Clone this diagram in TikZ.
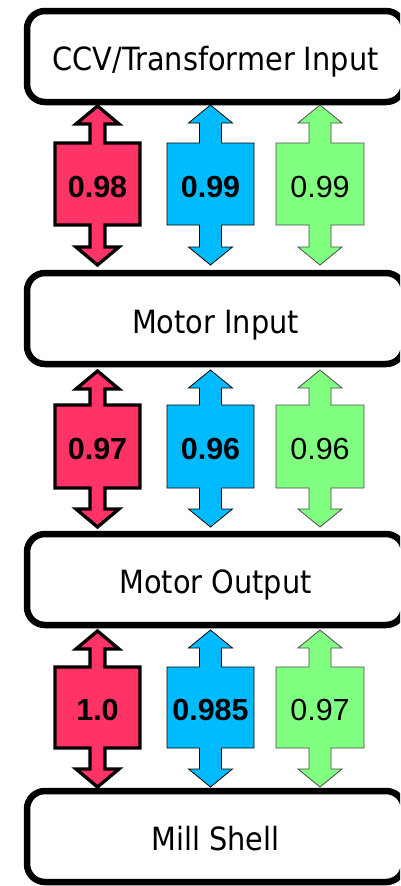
\documentclass[tikz,border=0pt]{standalone}
\usepackage{fontspec}
\setmainfont{Liberation Sans}
\newfontfamily\boxfont{DejaVu Sans}[FakeStretch=0.9]
\definecolor{effred}{HTML}{FF3366}
\definecolor{effblue}{HTML}{00BBFF}
\definecolor{effgreen}{HTML}{80FF80}
% #1 cx, #2 top tip, #3 body top, #4 body bottom, #5 bottom tip, #6 style, #7 shaft half width, #8 body half width, #9 head half width
\newcommand\effarrowpath[9]{%
  \draw[#6] (#1,#2) -- (#1+#9,#2+18) -- (#1+#7,#2+18) -- (#1+#7,#3) -- (#1+#8,#3)
    -- (#1+#8,#4) -- (#1+#7,#4) -- (#1+#7,#5-18) -- (#1+#9,#5-18) -- (#1,#5)
    -- (#1-#9,#5-18) -- (#1-#7,#5-18) -- (#1-#7,#4) -- (#1-#8,#4) -- (#1-#8,#3)
    -- (#1-#7,#3) -- (#1-#7,#2+18) -- (#1-#9,#2+18) -- cycle;}
\begin{document}
\begin{tikzpicture}[x=1pt,y=-1pt,
  stagebox/.style={draw=black, line width=6.5pt, fill=white, rounded corners=18pt,
    minimum width=377pt, minimum height=91pt, inner sep=0pt},
  stagelabel/.style={font=\boxfont\fontsize{32}{38}\selectfont, anchor=base, inner sep=0pt},
  redarrow/.style={fill=effred, draw=black, line width=3.3pt, line join=miter},
  bluearrow/.style={fill=effblue, draw=black, line width=0.8pt},
  greenarrow/.style={fill=effgreen, draw=black!70, line width=0.8pt},
  effbold/.style={font=\fontsize{30.5}{36}\selectfont\bfseries, anchor=base, inner sep=0pt},
  effreg/.style={font=\fontsize{30.5}{36}\selectfont, anchor=base, inner sep=0pt}]
\useasboundingbox (0,0) rectangle (400,886);
\clip (0,0) rectangle (400,886);
\fill[white] (0,0) rectangle (400,886);

% stage boxes
\node[stagebox] (b1) at (215.5,56.5) {};
\node[stagebox] (b2) at (215.5,318.5) {};
\node[stagebox] (b3) at (215.5,579.5) {};
\node[stagebox] (b4) at (215.5,836.5) {};
\node[stagelabel] (t1) at ([yshift=-13.5pt]b1.center) {CCV/Transformer Input};
\node[stagelabel] (t2) at ([yshift=-14.5pt]b2.center) {Motor Input};
\node[stagelabel] (t3) at ([yshift=-13.5pt]b3.center) {Motor Output};
\node[stagelabel] (t4) at ([yshift=-13.5pt]b4.center) {Mill Shell};

% row 1
\effarrowpath{97.5}{106}{143}{225}{265}{redarrow}{7.5}{42.5}{21.5}
\effarrowpath{210.5}{105}{143}{225}{265}{bluearrow}{11}{43.5}{22}
\effarrowpath{320}{105}{143}{225}{265}{greenarrow}{11}{44}{22}
\node[effbold] (r1) at (97.5,197) {0.98};
\node[effbold] (u1) at (210.5,197) {0.99};
\node[effreg] (g1) at (320,197) {0.99};

% row 2
\effarrowpath{97.5}{371}{405}{488}{527}{redarrow}{7.5}{42.5}{21.5}
\effarrowpath{210.5}{370}{405}{488}{527}{bluearrow}{11}{43.5}{22}
\effarrowpath{320}{370}{405}{488}{527}{greenarrow}{11}{44}{22}
\node[effbold] (r2) at (97.5,459) {0.97};
\node[effbold] (u2) at (210.5,459) {0.96};
\node[effreg] (g2) at (320,459) {0.96};

% row 3
\effarrowpath{97.5}{631}{667}{748}{787}{redarrow}{7.5}{42.5}{21.5}
\effarrowpath{210.5}{630}{667}{748}{787}{bluearrow}{11}{43.5}{22}
\effarrowpath{320}{630}{667}{748}{787}{greenarrow}{11}{44}{22}
\node[effbold] (r3) at (97.5,720) {1.0};
\node[effbold] (u3) at (210.5,720) {0.985};
\node[effreg] (g3) at (320,720) {0.97};
\end{tikzpicture}
\end{document}
